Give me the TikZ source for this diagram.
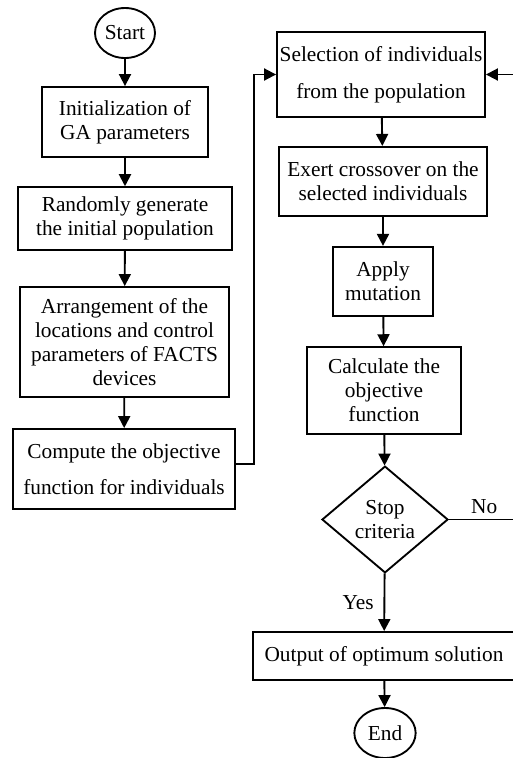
\documentclass[tikz,border=0pt]{standalone}
\usepackage{fontspec}
\setmainfont{Liberation Serif}
\usepackage{tikz}
\usetikzlibrary{shapes.geometric, arrows.meta, positioning, calc}
\definecolor{linecolor}{RGB}{0,0,0}

\begin{document}
\begin{tikzpicture}[
    x=0.75pt, y=-0.75pt,
    line width=1.4pt,
    process/.style={draw, linecolor, rectangle, align=center, inner sep=2pt, font=\fontsize{16}{18}\selectfont},
    terminal/.style={draw, linecolor, ellipse, inner sep=0pt, font=\fontsize{16}{18}\selectfont},
    decision/.style={draw, linecolor, diamond, inner sep=0pt, align=center, font=\fontsize{16}{18}\selectfont},
    arrow/.style={-{Triangle[length=9pt, width=9pt]}, linecolor}
]
    \useasboundingbox (0,0) rectangle (512,758);

    % left column
    \node[terminal, minimum width=45pt, minimum height=37.5pt] (start) at (125,33) {Start};
    \node[process, minimum width=124.5pt, minimum height=52.5pt] (init) at (125,122) {Initialization of\\GA parameters};
    \node[process, minimum width=160.5pt, minimum height=47pt] (randpop) at (125,218.5) {Randomly generate\\the initial population};
    \node[process, minimum width=157pt, minimum height=82.5pt] (arrange) at (124.5,342) {Arrangement of the\\locations and control\\parameters of FACTS\\devices};
    \node[process, minimum width=166pt, minimum height=60pt] (compute) at (124,469) {Compute the objective\\[9pt]function for individuals};

    % right column
    \node[process, minimum width=156pt, minimum height=64pt] (select) at (381,74.5) {Selection of individuals\\[10pt]from the population};
    \node[process, minimum width=156pt, minimum height=52pt] (cross) at (383,181.5) {Exert crossover on the\\selected individuals};
    \node[process, minimum width=75pt, minimum height=52pt] (mutate) at (383,281.5) {Apply\\mutation};
    \node[process, minimum width=115.5pt, minimum height=65pt] (calc) at (384,390.5) {Calculate the\\objective\\function};
    \node[decision, minimum width=94.5pt, minimum height=80pt] (stop) at (385,519.5) {Stop\\criteria};
    \node[process, minimum width=196.5pt, minimum height=36pt] (output) at (384,656) {Output of optimum solution};
    \node[terminal, minimum width=46pt, minimum height=37.5pt] (finish) at (385,733) {End};

    % loop corners
    \coordinate (loopL) at (254,464);
    \coordinate (loopR) at (514,519.5);

    % main flow
    \draw[arrow] (start) -- (init);
    \draw[arrow] (init) -- (randpop);
    \draw[arrow] (randpop) -- (arrange);
    \draw[arrow] (arrange) -- (compute);
    \draw[arrow] (compute.east |- loopL) -- (loopL) |- (select.west);
    \draw[arrow] (select) -- (cross);
    \draw[arrow] (cross) -- (mutate);
    \draw[arrow] (mutate) -- (calc);
    \draw[arrow] (calc) -- (stop);
    \draw[arrow] (stop) -- node[left, font=\fontsize{16}{18}\selectfont, xshift=-4pt] (yes) {Yes} (output);
    \draw[arrow] (output) -- (finish);

    % back to selection
    \draw[arrow] (stop.east) -- node[above, font=\fontsize{16}{18}\selectfont, xshift=2pt] (no) {No} (loopR) |- (select.east);
\end{tikzpicture}
\end{document}
